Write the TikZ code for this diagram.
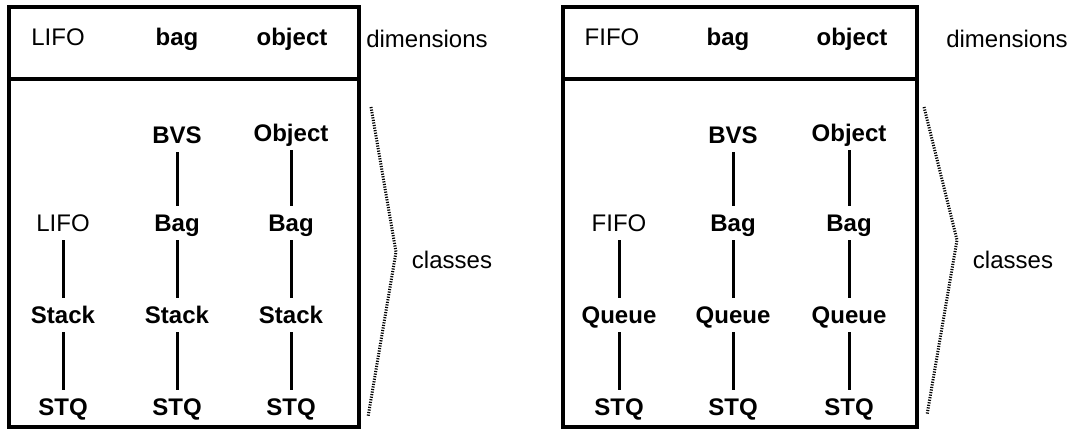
\documentclass[tikz,border=0pt]{standalone}
\usepackage{fontspec}
\setmainfont{Liberation Sans}
\begin{document}
\begin{tikzpicture}[x=0.5pt,y=-0.5pt,
  hd/.style={anchor=base,inner sep=0pt,font=\fontsize{12}{14}\selectfont},
  bhd/.style={anchor=base,inner sep=0pt,font=\fontsize{12}{14}\selectfont\bfseries},
  cls/.style={anchor=base,text height=8pt,text depth=0pt,inner xsep=2pt,inner ysep=4.5pt,font=\fontsize{12}{14}\selectfont\bfseries},
  clsn/.style={cls,font=\fontsize{12}{14}\selectfont},
  link/.style={line width=1.5pt},
  frame/.style={line width=1.6pt},
  bracket/.style={line width=1.5pt,dash pattern=on 0.6pt off 0.7pt}
]
\useasboundingbox (0,0) rectangle (1082,430);

% ---------- left panel ----------
\draw[frame] (9,7) rectangle (359,427);
\draw[frame] (9,79) -- (359,79);
\node[hd]  (hL1) at (58,45)  {LIFO};
\node[bhd] (hL2) at (177,45) {bag};
\node[bhd] (hL3) at (292,45) {object};
\node[hd]  (dimL) at (427,47) {dimensions};

\node[cls]  (bvsL)   at (177,143) {BVS};
\node[cls]  (objL)   at (291,141) {Object};
\node[clsn] (lifoL)  at (63,231)  {LIFO};
\node[cls]  (bagL2)  at (177,231) {Bag};
\node[cls]  (bagL3)  at (291,231) {Bag};
\node[cls]  (stkL1)  at (63,323)  {Stack};
\node[cls]  (stkL2)  at (177,323) {Stack};
\node[cls]  (stkL3)  at (291,323) {Stack};
\node[cls]  (stqL1)  at (63,415)  {STQ};
\node[cls]  (stqL2)  at (177,415) {STQ};
\node[cls]  (stqL3)  at (291,415) {STQ};

\draw[link] (bvsL) -- (bagL2);
\draw[link] (objL) -- (bagL3);
\draw[link] (lifoL) -- (stkL1);
\draw[link] (bagL2) -- (stkL2);
\draw[link] (bagL3) -- (stkL3);
\draw[link] (stkL1) -- (stqL1);
\draw[link] (stkL2) -- (stqL2);
\draw[link] (stkL3) -- (stqL3);

\coordinate (bL1) at (371,107);
\coordinate (bL2) at (396,252);
\coordinate (bL3) at (368,417);
\draw[bracket] (bL1) -- (bL2) -- (bL3);
\node[hd] (clsLbl) at (452,268) {classes};

% ---------- right panel ----------
\draw[frame] (563,7) rectangle (917,427);
\draw[frame] (563,79) -- (917,79);
\node[hd]  (hR1) at (612,45) {FIFO};
\node[bhd] (hR2) at (728,45) {bag};
\node[bhd] (hR3) at (852,45) {object};
\node[hd]  (dimR) at (1007,47) {dimensions};

\node[cls]  (bvsR)   at (733,143) {BVS};
\node[cls]  (objR)   at (849,141) {Object};
\node[clsn] (fifoR)  at (619,231) {FIFO};
\node[cls]  (bagR2)  at (733,231) {Bag};
\node[cls]  (bagR3)  at (849,231) {Bag};
\node[cls]  (queR1)  at (619,323) {Queue};
\node[cls]  (queR2)  at (733,323) {Queue};
\node[cls]  (queR3)  at (849,323) {Queue};
\node[cls]  (stqR1)  at (619,415) {STQ};
\node[cls]  (stqR2)  at (733,415) {STQ};
\node[cls]  (stqR3)  at (849,415) {STQ};

\draw[link] (bvsR) -- (bagR2);
\draw[link] (objR) -- (bagR3);
\draw[link] (fifoR) -- (queR1);
\draw[link] (bagR2) -- (queR2);
\draw[link] (bagR3) -- (queR3);
\draw[link] (queR1) -- (stqR1);
\draw[link] (queR2) -- (stqR2);
\draw[link] (queR3) -- (stqR3);

\coordinate (bR1) at (924,107);
\coordinate (bR2) at (957,240);
\coordinate (bR3) at (927,415);
\draw[bracket] (bR1) -- (bR2) -- (bR3);
\node[hd] (clsLblR) at (1013,268) {classes};
\end{tikzpicture}
\end{document}
